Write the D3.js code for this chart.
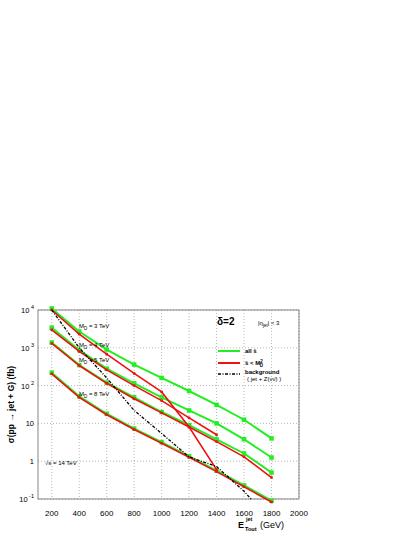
<!DOCTYPE html><html><head><script src="https://cdn.jsdelivr.net/npm/d3@7"></script>
<style>body{margin:0;background:#fff}text{font-family:"Liberation Sans",Arial,sans-serif}</style></head><body><svg width="415" height="537"></svg><script>
const xs=[200,400,600,800,1000,1200,1400,1600,1800];
const greenA=[11000,2700,900,360,160,72,31,12.5,4];
const greenB=[3400,870,280,115,49,22,10,3.8,1.25];
const greenC=[1380,350,120,49,20,9,3.8,1.6,0.5];
const greenD=[220,52,18,7.3,3.2,1.35,0.56,0.23,0.09];
const redA=[10000,2300,680,210,68,8,0.6];
const redB=[3000,800,260,100,40,14,5];
const redC=[1300,340,115,45,19,8,3.3,1.3,0.37];
const redD=[205,49,17,6.9,3.0,1.27,0.53,0.21,0.083];
const bgX=[200,400,600,800,1000,1200,1400,1600,1650];
const bgY=[10000,1000,160,22,5.4,1.3,0.72,0.16,0.1];
const xTicks=[200,400,600,800,1000,1200,1400,1600,1800,2000];
const yTicks=[0.1,1,10,100,1000,10000];
const svg=d3.select("svg");
const L=38,R=299,T=310,B=499;
const x=d3.scaleLinear().domain([100,2000]).range([L,R]);
const y=d3.scaleLog().domain([0.1,10000]).range([B,T]);
const g=svg.append("g");
g.selectAll(".gx").data(xTicks).join("line").attr("x1",d=>x(d)).attr("x2",d=>x(d)).attr("y1",T).attr("y2",B).attr("stroke","#999").attr("stroke-dasharray","1,2").attr("stroke-width",0.7);
g.selectAll(".gy").data(yTicks).join("line").attr("y1",d=>y(d)).attr("y2",d=>y(d)).attr("x1",L).attr("x2",R).attr("stroke","#999").attr("stroke-dasharray","1,2").attr("stroke-width",0.7);
svg.append("rect").attr("x",L).attr("y",T).attr("width",R-L).attr("height",B-T).attr("fill","none").attr("stroke","#666").attr("stroke-width",0.8);
g.selectAll(".xt").data(xTicks).join("text").attr("x",d=>x(d)).attr("y",B+17).attr("text-anchor","middle").attr("font-size",8).text(d=>d);
const ylab={0.1:["10","-1"],1:["1",""],10:["10",""],100:["10","2"],1000:["10","3"],10000:["10","4"]};
yTicks.forEach(v=>{const t=svg.append("text").attr("x",L-4).attr("y",y(v)+3).attr("text-anchor","end").attr("font-size",7.5);
 if(ylab[v][1]){t.text("10");t.append("tspan").attr("dy",-4).attr("font-size",5.5).text(" "+ylab[v][1]);}else t.text(ylab[v][0]);});
svg.append("text").attr("transform",`translate(14,${(T+B)/2}) rotate(-90)`).attr("text-anchor","middle").attr("font-size",8.5).attr("font-weight","bold").text("σ(pp → jet + G)  (fb)");
svg.append("text").attr("x",238).attr("y",528).attr("font-size",9).attr("font-weight","bold").text("E");
svg.append("text").attr("x",245).attr("y",531).attr("font-size",5.5).attr("font-weight","bold").text("Tout");
svg.append("text").attr("x",246).attr("y",521).attr("font-size",5.5).attr("font-weight","bold").text("jet");
svg.append("text").attr("x",260).attr("y",528).attr("font-size",9).text("(GeV)");
const line=d3.line().x(d=>x(d[0])).y(d=>y(d[1]));
function draw(vals,col,w,mk){const pts=vals.map((v,i)=>[xs[i],v]);
 svg.append("path").attr("d",line(pts)).attr("fill","none").attr("stroke",col).attr("stroke-width",w);
 svg.selectAll(null).data(pts).join("rect").attr("x",d=>x(d[0])-mk/2).attr("y",d=>y(d[1])-mk/2).attr("width",mk).attr("height",mk).attr("fill",col);}
[greenA,greenB,greenC,greenD].forEach(v=>draw(v,"#22ee22",2,4.5));
[redA,redB,redC,redD].forEach(v=>draw(v,"#ee1111",1.6,2.5));
svg.append("path").attr("d",line(bgX.map((v,i)=>[v,bgY[i]]))).attr("fill","none").attr("stroke","#000").attr("stroke-width",1.3).attr("stroke-dasharray","3,1.5,1,1.5");
[["3",328],["4",347],["5",362],["8",396]].forEach(([m,yy])=>{const t=svg.append("text").attr("x",79).attr("y",yy).attr("font-size",6);t.append("tspan").text("M");t.append("tspan").attr("font-size",4.5).attr("dy",1.5).text("D");t.append("tspan").attr("dy",-1.5).text(" = "+m+" TeV");});
svg.append("text").attr("x",217).attr("y",325).attr("font-size",10).attr("font-weight","bold").text("δ=2");
const et=svg.append("text").attr("x",258).attr("y",325).attr("font-size",6);et.append("tspan").text("|η");et.append("tspan").attr("font-size",4.5).attr("dy",1.5).text("jet");et.append("tspan").attr("dy",-1.5).text("| < 3");
svg.append("line").attr("x1",218).attr("x2",240).attr("y1",351).attr("y2",351).attr("stroke","#22ee22").attr("stroke-width",2);
svg.append("line").attr("x1",218).attr("x2",240).attr("y1",363).attr("y2",363).attr("stroke","#ee1111").attr("stroke-width",2);
svg.append("line").attr("x1",218).attr("x2",240).attr("y1",374).attr("y2",374).attr("stroke","#000").attr("stroke-width",1.3).attr("stroke-dasharray","3,1.5,1,1.5");
svg.append("text").attr("x",245).attr("y",353).attr("font-size",6).attr("font-weight","bold").text("all ŝ");
const r=svg.append("text").attr("x",245).attr("y",365).attr("font-size",6).attr("font-weight","bold");r.append("tspan").text("ŝ < M");r.append("tspan").attr("font-size",4.5).attr("dy",-2).text("2");r.append("tspan").attr("font-size",4.5).attr("dx",-3).attr("dy",3.5).text("D");
svg.append("text").attr("x",245).attr("y",374).attr("font-size",6).attr("font-weight","bold").text("background");
svg.append("text").attr("x",247).attr("y",381).attr("font-size",6).text("( jet + Z(νν̄) )");
svg.append("text").attr("x",45).attr("y",465).attr("font-size",6).text("√s = 14 TeV");
</script></body></html>
